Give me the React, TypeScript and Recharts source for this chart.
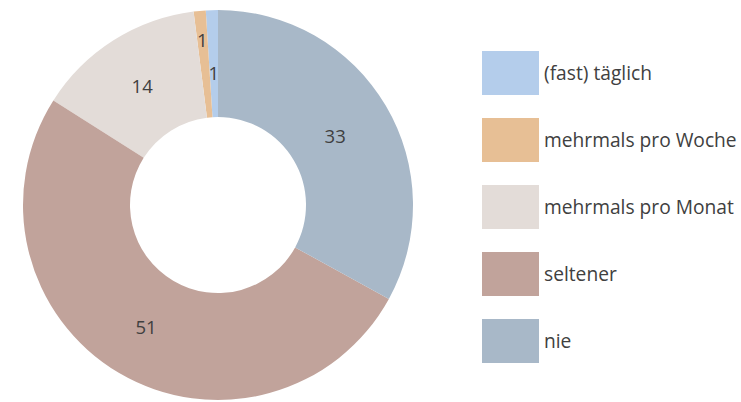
import { Cell, Legend, Pie, PieChart } from "recharts";

const categories = ["(fast) täglich", "mehrmals pro Woche", "mehrmals pro Monat", "seltener", "nie"];
const values = [1, 1, 14, 51, 33];
const colors = ["#b4cdeb", "#e7bf95", "#e3dcd8", "#c1a39b", "#a8b8c8"];
// label distance inside the ring (0 = inner edge, 1 = outer edge)
const labelPos = [0.42, 0.73, 0.5, 0.5, 0.45];

const data = categories.map((name, i) => ({ name, value: values[i] }));

const RAD = Math.PI / 180;
const TEXT = "#404040";
const FONT = "'Open Sans', sans-serif";

function SliceLabel(props: any) {
  const { cx, cy, midAngle, innerRadius, outerRadius, value, index } = props;
  const r = innerRadius + (outerRadius - innerRadius) * labelPos[index];
  const x = cx + r * Math.cos(-midAngle * RAD);
  const y = cy + r * Math.sin(-midAngle * RAD);
  return (
    <text x={x} y={y} fill={TEXT} fontSize={18.5} fontFamily={FONT} textAnchor="middle" dominantBaseline="central">
      {value}
    </text>
  );
}

function LegendBox() {
  return (
    <div style={{ fontFamily: FONT }}>
      {data.map((d, i) => (
        <div key={d.name} style={{ display: "flex", alignItems: "center", height: 67 }}>
          <div style={{ width: 57, height: 44, background: colors[i], marginRight: 5 }} />
          <span style={{ fontSize: 19.2, color: TEXT }}>{d.name}</span>
        </div>
      ))}
    </div>
  );
}

export default function App() {
  return (
    <div style={{ position: "absolute", left: 0, top: 0, width: 741, height: 402, background: "#fff" }}>
      <PieChart width={741} height={402} margin={{ top: 0, right: 0, bottom: 0, left: 0 }}>
        <Pie
          data={data}
          dataKey="value"
          cx={218}
          cy={205}
          innerRadius={88}
          outerRadius={195}
          startAngle={90}
          endAngle={450}
          stroke="none"
          label={SliceLabel}
          labelLine={false}
          isAnimationActive={false}
        >
          {data.map((d, i) => (
            <Cell key={d.name} fill={colors[i]} />
          ))}
        </Pie>
        <Legend content={<LegendBox />} wrapperStyle={{ left: 482, top: 39, width: 259 }} />
      </PieChart>
    </div>
  );
}
